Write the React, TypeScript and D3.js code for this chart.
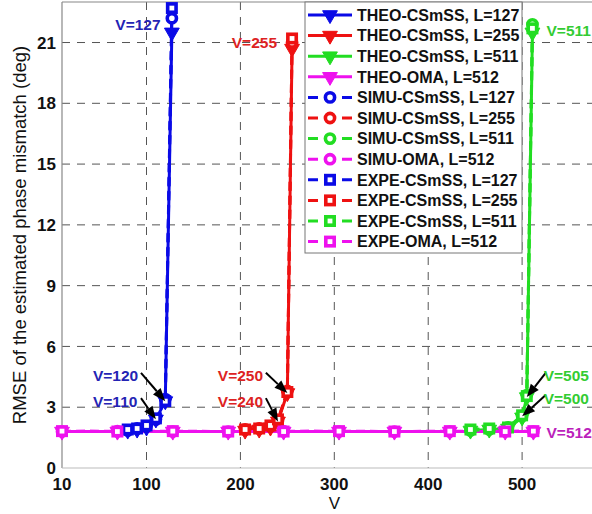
import * as d3 from 'd3';

// sweep values of V per curve, RMSE in degrees
const V127 = [80, 90, 100, 110, 120, 127];
const theo127 = [1.85, 1.9, 2.0, 2.4, 3.3, 21.5];
const simu127 = [1.85, 1.95, 2.05, 2.4, 3.4, 22.2];
const expe127 = [1.9, 1.95, 2.1, 2.45, 3.3, 22.7];

const V255 = [205, 220, 232, 240, 250, 255];
const theo255 = [1.85, 1.9, 2.0, 2.3, 3.7, 20.7];
const simu255 = [1.9, 1.95, 2.05, 2.35, 3.8, 21.0];
const expe255 = [1.9, 1.95, 2.1, 2.4, 3.75, 21.2];

const V511 = [445, 465, 485, 500, 505, 511];
const theo511 = [1.85, 1.9, 1.95, 2.5, 3.5, 21.5];
const simu511 = [1.85, 1.9, 2.0, 2.55, 3.6, 21.9];
const expe511 = [1.9, 1.95, 2.0, 2.6, 3.55, 21.7];

const V512 = [10, 69, 128, 187, 246, 305, 364, 423, 482, 512];
const theo512 = [1.8, 1.8, 1.8, 1.8, 1.8, 1.8, 1.8, 1.8, 1.8, 1.8];
const simu512 = [1.8, 1.82, 1.8, 1.8, 1.82, 1.8, 1.8, 1.8, 1.82, 1.8];
const expe512 = [1.82, 1.8, 1.82, 1.8, 1.8, 1.82, 1.8, 1.82, 1.8, 1.82];

const xTicks = [10, 100, 200, 300, 400, 500];
const yTicks = [0, 3, 6, 9, 12, 15, 18, 21];

const BLUE = '#0a0ae6';
const RED = '#ee1111';
const GREEN = '#22dd22';
const MAGENTA = '#ee11ee';

type Kind = 'theo' | 'simu' | 'expe';
interface Series { name: string; kind: Kind; color: string; v: number[]; y: number[] }

const series: Series[] = [
  { name: 'THEO-CSmSS, L=127', kind: 'theo', color: BLUE, v: V127, y: theo127 },
  { name: 'THEO-CSmSS, L=255', kind: 'theo', color: RED, v: V255, y: theo255 },
  { name: 'THEO-CSmSS, L=511', kind: 'theo', color: GREEN, v: V511, y: theo511 },
  { name: 'THEO-OMA, L=512', kind: 'theo', color: MAGENTA, v: V512, y: theo512 },
  { name: 'SIMU-CSmSS, L=127', kind: 'simu', color: BLUE, v: V127, y: simu127 },
  { name: 'SIMU-CSmSS, L=255', kind: 'simu', color: RED, v: V255, y: simu255 },
  { name: 'SIMU-CSmSS, L=511', kind: 'simu', color: GREEN, v: V511, y: simu511 },
  { name: 'SIMU-OMA, L=512', kind: 'simu', color: MAGENTA, v: V512, y: simu512 },
  { name: 'EXPE-CSmSS, L=127', kind: 'expe', color: BLUE, v: V127, y: expe127 },
  { name: 'EXPE-CSmSS, L=255', kind: 'expe', color: RED, v: V255, y: expe255 },
  { name: 'EXPE-CSmSS, L=511', kind: 'expe', color: GREEN, v: V511, y: expe511 },
  { name: 'EXPE-OMA, L=512', kind: 'expe', color: MAGENTA, v: V512, y: expe512 },
];

// text labels (data coords), arrows point at a data point
const notes = [
  { text: 'V=127', color: '#2424b4', v: 115, y: 21.9, anchor: 'end' },
  { text: 'V=255', color: '#dd2222', v: 239, y: 21.0, anchor: 'end' },
  { text: 'V=511', color: '#33cc33', v: 526, y: 21.6, anchor: 'start' },
  { text: 'V=512', color: '#bb22bb', v: 526, y: 1.78, anchor: 'start' },
  { text: 'V=120', color: '#2424b4', v: 43, y: 4.55, anchor: 'start', tipV: 120, tipY: 3.3 },
  { text: 'V=110', color: '#2424b4', v: 43, y: 3.3, anchor: 'start', tipV: 110, tipY: 2.4 },
  { text: 'V=250', color: '#dd2222', v: 176, y: 4.55, anchor: 'start', tipV: 250, tipY: 3.7 },
  { text: 'V=240', color: '#dd2222', v: 176, y: 3.3, anchor: 'start', tipV: 240, tipY: 2.3 },
  { text: 'V=505', color: '#33cc33', v: 523, y: 4.55, anchor: 'start', tipV: 505, tipY: 3.5 },
  { text: 'V=500', color: '#33cc33', v: 523, y: 3.45, anchor: 'start', tipV: 500, tipY: 2.55 },
];

const W = 592, H = 514;
const left = 62, top = 2, bottom = 468, right = 616;
const font = 'Arial, "Liberation Sans", sans-serif';

function Marker({ kind, color, x, y }: { kind: Kind; color: string; x: number; y: number }) {
  if (kind === 'theo') {
    const p = d3.symbol(d3.symbolTriangle, 95)() as string;
    return <path d={p} transform={`translate(${x},${y}) rotate(180)`} fill={color} stroke={color} strokeWidth={1} />;
  }
  if (kind === 'simu') {
    return <circle cx={x} cy={y} r={4.6} fill="#fff" stroke={color} strokeWidth={3.6} />;
  }
  return <rect x={x - 4.2} y={y - 4.2} width={8.4} height={8.4} fill="#fff" stroke={color} strokeWidth={3.6} />;
}

export default function App() {
  const x = d3.scaleLinear().domain([10, 600]).range([left, right]);
  const y = d3.scaleLinear().domain([0, 23]).range([bottom, top]);
  const line = d3.line<[number, number]>().x(d => x(d[0])).y(d => y(d[1]));

  const legX = 305, legY = top, legW = 217, rowH = 20.6;

  return (
    <svg width={W} height={H} style={{ position: 'absolute', left: 0, top: 0, background: '#fff' }} fontFamily={font}>
      <defs>
        <clipPath id="plot"><rect x={left} y={top} width={right - left} height={bottom - top} /></clipPath>
      </defs>
      <rect x={0} y={0} width={W} height={H} fill="#fff" />

      {/* grid */}
      {xTicks.slice(1).map(t => (
        <line key={'gx' + t} x1={x(t)} x2={x(t)} y1={top} y2={bottom} stroke="#555" strokeWidth={1} strokeDasharray="8,7" />
      ))}
      {yTicks.slice(1).map(t => (
        <line key={'gy' + t} x1={left} x2={right} y1={y(t)} y2={y(t)} stroke="#555" strokeWidth={1} strokeDasharray="8,7" />
      ))}

      {/* axes box */}
      <line x1={left} x2={left} y1={top} y2={bottom} stroke="#888" strokeWidth={1.2} />
      <line x1={left} x2={right} y1={bottom} y2={bottom} stroke="#bbb" strokeWidth={1.2} />
      <line x1={left} x2={right} y1={top} y2={top} stroke="#888" strokeWidth={1.2} />

      {/* tick labels */}
      {xTicks.map(t => (
        <text key={'tx' + t} x={x(t)} y={490} textAnchor="middle" fontSize={17} fontWeight="bold" fill="#111">{t}</text>
      ))}
      {yTicks.map(t => (
        <text key={'ty' + t} x={56} y={y(t)} dy="0.36em" textAnchor="end" fontSize={17} fontWeight="bold" fill="#111">{t}</text>
      ))}
      <text x={x(300)} y={509} textAnchor="middle" fontSize={17} fill="#111">V</text>
      <text transform={`translate(26,235) rotate(-90)`} textAnchor="middle" fontSize={18.5} fill="#111">
        RMSE of the estimated phase mismatch (deg)
      </text>

      {/* curves */}
      <g clipPath="url(#plot)">
        {series.map((s, i) => (
          <path key={'l' + i} d={line(s.v.map((v, j) => [v, s.y[j]] as [number, number])) as string}
            fill="none" stroke={s.color} strokeWidth={3}
            strokeDasharray={s.kind === 'theo' ? undefined : '9,5'} />
        ))}
      </g>
      {series.map((s, i) => (
        <g key={'m' + i}>
          {s.v.map((v, j) => <Marker key={j} kind={s.kind} color={s.color} x={x(v)} y={y(s.y[j])} />)}
        </g>
      ))}

      {/* annotations */}
      {notes.map((n, i) => {
        const tx = x(n.v), ty = y(n.y);
        let arrow = null;
        if (n.tipV !== undefined) {
          const hx = x(n.tipV), hy = y(n.tipY as number);
          const sx = n.anchor === 'start' && n.v < 400 ? tx + 48 : tx + 2;
          const sy = ty - 3;
          const ang = Math.atan2(hy - sy, hx - sx);
          const L = 13, Wd = 5;
          const bx = hx - L * Math.cos(ang), by = hy - L * Math.sin(ang);
          const px = -Math.sin(ang) * Wd, py = Math.cos(ang) * Wd;
          arrow = (
            <g>
              <line x1={sx} y1={sy} x2={bx} y2={by} stroke="#000" strokeWidth={2} />
              <path d={`M${hx},${hy}L${bx + px},${by + py}L${bx - px},${by - py}Z`} fill="#000" />
            </g>
          );
        }
        return (
          <g key={'n' + i}>
            {arrow}
            <text x={tx} y={ty} dy="0.36em" textAnchor={n.anchor as any} fontSize={15.5} fontWeight="bold" fill={n.color}>{n.text}</text>
          </g>
        );
      })}

      {/* legend */}
      <rect x={legX} y={legY} width={legW} height={251} fill="#fff" stroke="#777" strokeWidth={1} />
      {series.map((s, i) => {
        const cy = legY + 13 + i * rowH;
        return (
          <g key={'lg' + i}>
            <line x1={legX + 3} x2={legX + 47} y1={cy} y2={cy} stroke={s.color} strokeWidth={3}
              strokeDasharray={s.kind === 'theo' ? undefined : '10,24'} />
            <Marker kind={s.kind} color={s.color} x={legX + 25} y={cy} />
            <text x={legX + 52} y={cy} dy="0.36em" fontSize={16} fontWeight="bold" fill="#111">{s.name}</text>
          </g>
        );
      })}
    </svg>
  );
}
